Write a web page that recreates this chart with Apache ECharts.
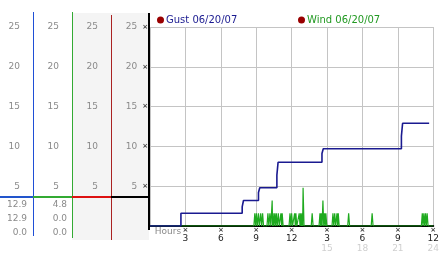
<!DOCTYPE html>
<html>
<head>
<meta charset="utf-8">
<script src="https://cdn.jsdelivr.net/npm/echarts@6/dist/echarts.min.js"></script>
<style>
html,body{margin:0;padding:0;background:#fff;}
#c{width:442px;height:253px;}
</style>
</head>
<body>
<div id="c"></div>
<script>
// ---- data ----
const gustName = 'Gust 06/20/07';
const windName = 'Wind 06/20/07';
const gustHours  = [0, 2.62, 7.81, 7.92, 9.19, 9.30, 10.75, 10.85, 14.57, 14.68, 21.30, 21.40, 23.65];
const gustValues = [0, 1.6,  2.4,  3.2,  4.2,  4.8,  6.4,   8.0,   9.1,   9.7,   11.3,  12.9,  12.9];
const windReadings = [
  [0,0],
  [8.80,0],[8.88,1.6],[8.95,0],[9.02,1.6],[9.10,0],
  [9.11,0],[9.19,1.6],[9.27,0],[9.30,0],[9.38,1.6],[9.46,0],
  [9.46,0],[9.54,1.6],[9.62,0],
  [9.91,0],[9.99,1.6],[10.07,0],[10.08,0],[10.16,1.6],[10.24,0],
  [10.27,0],[10.35,3.2],[10.39,0],[10.43,1.6],[10.50,0],[10.57,1.6],[10.64,0],
  [10.70,1.6],[10.78,0],[10.79,0],[10.87,1.6],[10.95,0],
  [11.01,0],[11.09,1.6],[11.15,0],[11.20,1.6],[11.28,0],
  [11.78,0],[11.86,1.6],[11.93,0],[12.00,1.6],[12.08,0],
  [12.17,0],[12.25,1.6],[12.31,0],[12.36,1.6],[12.44,0],
  [12.56,0],[12.64,1.6],[12.71,0],[12.77,1.6],[12.83,0],[12.89,1.6],[12.93,0],[12.97,4.8],[13.05,0],
  [13.66,0],[13.74,1.6],[13.82,0],
  [14.32,0],[14.40,1.6],[14.46,0],[14.51,1.6],[14.58,0],[14.65,3.2],[14.72,0],[14.79,1.6],[14.85,0],[14.90,1.6],[14.98,0],
  [15.42,0],[15.50,1.6],[15.57,0],[15.58,0],[15.65,1.6],[15.73,0],
  [15.76,0],[15.84,1.6],[15.90,0],[15.95,1.6],[16.03,0],
  [16.75,0],[16.83,1.6],[16.91,0],
  [18.74,0],[18.82,1.6],[18.90,0],
  [22.99,0],[23.07,1.6],[23.13,0],[23.20,1.6],[23.27,0],[23.34,1.6],[23.41,0],[23.48,1.6],[23.56,0],
  [24,0]
];
const gustStats = ['12.9', '12.9', '0.0'];
const windStats = ['4.8', '0.0', '0.0'];
const xTopLabels    = ['Hours','3','6','9','12','3','6','9','12'];
const xBottomLabels = ['','','','','','15','18','21','24'];

// ---- styling ----
const FONT = 'DejaVu Sans';
const GRID_L = 150, GRID_T = 27, GRID_B = 27;
const gridColor = '#c4c4c4';
const labelGrey = '#8a8a8a';

const gustData = gustHours.map((h, i) => [h, gustValues[i]]);

function yAxisDef(offset, isMain) {
  return {
    type: 'value', position: 'left', offset: offset,
    min: 0, max: 25, interval: 5,
    axisLine: {show: false}, axisTick: {show: false},
    splitLine: {show: isMain, lineStyle: {color: gridColor, width: 1}},
    axisLabel: {
      margin: isMain ? 2 : 13,
      color: labelGrey, fontFamily: FONT, fontSize: 9,
      formatter: function (v) {
        if (v === 0) return '';
        return isMain ? '{n|' + v + '}{m|×}' : '{n|' + v + '}';
      },
      rich: {
        n: {color: labelGrey, fontFamily: FONT, fontSize: 9},
        m: {color: '#444', fontFamily: FONT, fontSize: 7, fontWeight: 'bold', padding: [0, 0, 0, 5]}
      }
    }
  };
}

const statTexts = [];
gustStats.forEach((t, i) => statTexts.push({type: 'text', z: 5,
  style: {text: t, x: 27, y: 205 + i * 13.8, align: 'right', verticalAlign: 'middle', fill: labelGrey, font: '9px "' + FONT + '"'}}));
windStats.forEach((t, i) => statTexts.push({type: 'text', z: 5,
  style: {text: t, x: 67, y: 205 + i * 13.8, align: 'right', verticalAlign: 'middle', fill: labelGrey, font: '9px "' + FONT + '"'}}));

const chart = echarts.init(document.getElementById('c'), null, {renderer: 'canvas'});
chart.setOption({
  animation: false,
  backgroundColor: '#fff',
  grid: {left: GRID_L, right: 2, top: GRID_T, bottom: GRID_B, containLabel: false},
  legend: [
    {data: [{name: gustName, icon: 'circle', itemStyle: {color: '#990000'}, textStyle: {color: '#1a1a90'}}],
     left: 157, top: 15, padding: 0, itemWidth: 7, itemHeight: 7,
     textStyle: {fontFamily: FONT, fontSize: 10, padding: [0, 0, 0, -3]}},
    {data: [{name: windName, icon: 'circle', itemStyle: {color: '#990000'}, textStyle: {color: '#229922'}}],
     left: 298, top: 15, padding: 0, itemWidth: 7, itemHeight: 7,
     textStyle: {fontFamily: FONT, fontSize: 10, padding: [0, 0, 0, -3]}}
  ],
  xAxis: {
    type: 'value', min: 0, max: 24, interval: 3,
    axisLine: {show: true, lineStyle: {color: '#000', width: 2}},
    axisTick: {show: false},
    splitLine: {show: true, lineStyle: {color: gridColor, width: 1}},
    axisLabel: {
      margin: 1, showMinLabel: true, showMaxLabel: true, hideOverlap: false,
      formatter: function (v) {
        const i = Math.round(v / 3);
        if (i === 0) return '{h|' + xTopLabels[0] + '}';
        let s = '{m|×}\n{n|' + xTopLabels[i] + '}';
        if (xBottomLabels[i]) s += '\n{g|' + xBottomLabels[i] + '}';
        return s;
      },
      rich: {
        h: {color: labelGrey, fontFamily: FONT, fontSize: 9, lineHeight: 10, padding: [0, 0, 0, 36]},
        m: {color: '#444', fontFamily: FONT, fontSize: 7, fontWeight: 'bold', lineHeight: 7},
        n: {color: '#222', fontFamily: FONT, fontSize: 9, lineHeight: 10},
        g: {color: '#cfcfcf', fontFamily: FONT, fontSize: 9, lineHeight: 9}
      }
    }
  },
  yAxis: [yAxisDef(117, false), yAxisDef(78, false), yAxisDef(39, false), yAxisDef(0, true)],
  series: [
    {name: gustName, type: 'line', yAxisIndex: 3, step: 'end', showSymbol: false, symbol: 'none',
     data: gustData, lineStyle: {color: '#1a1a90', width: 1.6}, itemStyle: {color: '#1a1a90'}, z: 4},
    {name: windName, type: 'line', yAxisIndex: 3, showSymbol: false, symbol: 'none',
     data: windReadings, lineStyle: {color: '#1faa1f', width: 1.2}, itemStyle: {color: '#1faa1f'}, z: 3}
  ],
  graphic: {elements: [
    {type: 'rect', z: -10, silent: true, shape: {x: 72, y: 13, width: 77, height: 227}, style: {fill: '#f4f4f4'}},
    {type: 'line', z: 5, shape: {x1: 33.5, y1: 12, x2: 33.5, y2: 236}, style: {stroke: '#1f4fd6', lineWidth: 1}},
    {type: 'line', z: 5, shape: {x1: 72.5, y1: 12, x2: 72.5, y2: 238}, style: {stroke: '#33aa33', lineWidth: 1}},
    {type: 'line', z: 5, shape: {x1: 111.5, y1: 15, x2: 111.5, y2: 240}, style: {stroke: '#aa2222', lineWidth: 1}},
    {type: 'line', z: 5, shape: {x1: 149, y1: 13, x2: 149, y2: 230}, style: {stroke: '#000', lineWidth: 2}},
    {type: 'line', z: 6, shape: {x1: 0, y1: 197, x2: 33, y2: 197}, style: {stroke: '#2255cc', lineWidth: 2}},
    {type: 'line', z: 6, shape: {x1: 33, y1: 197, x2: 72, y2: 197}, style: {stroke: '#33aa33', lineWidth: 2}},
    {type: 'line', z: 6, shape: {x1: 72, y1: 197, x2: 111, y2: 197}, style: {stroke: '#dd1111', lineWidth: 2}},
    {type: 'line', z: 6, shape: {x1: 111, y1: 197, x2: 149, y2: 197}, style: {stroke: '#000', lineWidth: 2}}
  ].concat(statTexts)}
});
</script>
</body>
</html>
